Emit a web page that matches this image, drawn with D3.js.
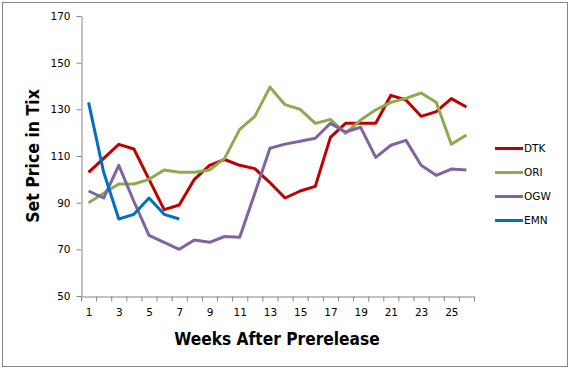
<!DOCTYPE html>
<html>
<head>
<meta charset="utf-8">
<script src="https://cdn.jsdelivr.net/npm/d3@7"></script>
<style>
  body { margin: 0; background: #fff; }
  text { font-family: "DejaVu Sans", sans-serif; }
</style>
</head>
<body>
<div id="chart"></div>
<script>
// weekly set prices
var weeks = d3.range(1, 27);
var seriesNames = ["DTK", "ORI", "OGW", "EMN"];
var seriesColors = ["#C00000", "#8EAA4E", "#8064A2", "#0070C0"];
var dtk = [103, 109, 115, 113, 100, 87, 89, 100, 106, 108.5, 106, 104.6, 98.6, 92, 95, 97, 118, 124, 124, 124, 136, 134, 127, 129, 134.6, 131];
var ori = [90, 94, 98, 98, 100, 104, 103, 103, 104, 109, 121.4, 127, 139.5, 132, 130, 124, 125.7, 119.7, 125.4, 129.8, 133, 134.7, 137, 133, 115, 119];
var ogw = [95, 92, 106, 90.5, 76, 73, 70, 74, 73, 75.5, 75.2, 94, 113.3, 115.1, 116.3, 117.6, 124, 120.3, 122.3, 109.4, 114.6, 116.7, 106, 101.7, 104.4, 104];
var emn = [133, 103, 83, 85, 92, 85, 83];
var yTicks = [50, 70, 90, 110, 130, 150, 170];
var xLabels = [1, 3, 5, 7, 9, 11, 13, 15, 17, 19, 21, 23, 25];

var allSeries = [dtk, ori, ogw, emn];

var W = 571, H = 369;
var margin = {top: 16, right: 97, bottom: 73, left: 81},
    width = 474 - margin.left,
    height = 296 - margin.top;

var svg = d3.select("#chart")
    .append("svg")
    .attr("width", W)
    .attr("height", H);

// outer chart border
svg.append("rect")
    .attr("x", 2.5).attr("y", 2.5)
    .attr("width", 565).attr("height", 364)
    .attr("fill", "#fff")
    .attr("stroke", "#868686")
    .attr("stroke-width", 1);

var g = svg.append("g")
    .attr("transform", "translate(" + margin.left + "," + margin.top + ")");

var x = d3.scaleLinear()
    .domain([0.5, 26.5])
    .range([0, width]);

var y = d3.scaleLinear()
    .domain([50, 170])
    .range([height, 0]);

// y axis
var yAxisG = g.append("g")
    .attr("transform", "translate(0.5,0)")
    .call(d3.axisLeft(y).tickValues(yTicks).tickSize(5).tickSizeOuter(0).tickPadding(6));

// x axis: tick marks between weeks
var xAxisG = g.append("g")
    .attr("transform", "translate(0," + (height + 0.5) + ")")
    .call(d3.axisBottom(x).tickValues(d3.range(0.5, 27, 1)).tickFormat("").tickSize(5).tickSizeOuter(0));

// x labels on odd weeks
var xLabG = g.append("g")
    .attr("transform", "translate(0," + height + ")")
    .call(d3.axisBottom(x).tickValues(xLabels).tickFormat(d3.format("d")).tickSize(0).tickPadding(13));
xLabG.select(".domain").remove();

svg.selectAll(".domain, .tick line")
    .attr("stroke", "#868686");
svg.selectAll(".tick text")
    .attr("fill", "#000")
    .style("font-size", "10.5px")
    .style("font-family", "DejaVu Sans");

// lines
var line = d3.line()
    .x(function(d, i) { return x(weeks[i]); })
    .y(function(d) { return y(d); });

g.append("g")
    .selectAll("path")
    .data(allSeries)
    .join("path")
        .attr("fill", "none")
        .attr("stroke", function(d, i) { return seriesColors[i]; })
        .attr("stroke-width", 3)
        .attr("stroke-linejoin", "round")
        .attr("d", line);

// axis titles
svg.append("text")
    .attr("x", 277)
    .attr("y", 345)
    .attr("text-anchor", "middle")
    .style("font-family", "DejaVu Sans Condensed, DejaVu Sans")
    .style("font-weight", "bold")
    .style("font-size", "17.2px")
    .text("Weeks After Prerelease");

svg.append("text")
    .attr("transform", "translate(39,156) rotate(-90)")
    .attr("text-anchor", "middle")
    .style("font-family", "DejaVu Sans Condensed, DejaVu Sans")
    .style("font-weight", "bold")
    .style("font-size", "17.5px")
    .text("Set Price in Tix");

// legend
var legend = svg.append("g")
    .selectAll("g")
    .data(seriesNames)
    .join("g")
        .attr("transform", function(d, i) { return "translate(495," + (148.5 + i * 24) + ")"; });
legend.append("line")
    .attr("x1", 0).attr("x2", 28)
    .attr("stroke", function(d, i) { return seriesColors[i]; })
    .attr("stroke-width", 3);
legend.append("text")
    .attr("x", 29)
    .attr("dy", "0.36em")
    .style("font-size", "10.5px")
    .text(function(d) { return d; });
</script>
</body>
</html>
